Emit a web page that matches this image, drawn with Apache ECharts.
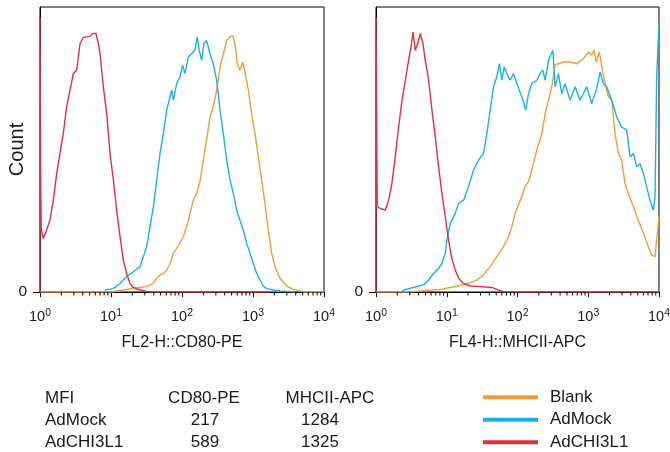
<!DOCTYPE html>
<html><head><meta charset="utf-8">
<script src="https://cdn.jsdelivr.net/npm/echarts@6/dist/echarts.min.js"></script>
<style>html,body{margin:0;padding:0;background:#fff}#c{width:670px;height:452px}</style>
</head><body><div id="c"></div>
<script>
const seriesNames = ['Blank', 'AdMock', 'AdCHI3L1'];
const seriesColors = ['#F39C3A', '#1BB1E6', '#E1303F'];
const panelNames = ['FL2-H::CD80-PE', 'FL4-H::MHCII-APC'];
const xTickExponents = ['0', '1', '2', '3', '4'];
const minorTickValues = [2,3,4,5,6,7,8,9,20,30,40,50,60,70,80,90,200,300,400,500,600,700,800,900,2000,3000,4000,5000,6000,7000,8000,9000];

const cd80Blank = [[1,0],[10,0],[16.6,0.9],[20.6,1.3],[25.6,1.6],[31.8,1.9],[39.5,3],[44,4.8],[49,6],[54.6,6.5],[60.8,7.7],[67.8,10],[75.5,13.6],[84.1,15.3],[93.7,17.1],[104,19.4],[116,22.9],[130,27.6],[144,32.2],[161,34.6],[179,38.7],[200,46.3],[222,53.3],[248,61.4],[276,65],[308,70.8],[343,79],[382,83.6],[426,88.3],[474,89.5],[517,90],[558,87.1],[601,80.1],[656,77.8],[715,80.7],[771,77.2],[859,70.8],[958,62.6],[1067,55.6],[1189,47.4],[1324,39.3],[1475,31.1],[1644,21.7],[1831,13.6],[2040,8.9],[2400,4.8],[2980,2.1],[3700,0.9],[4590,0.35],[5500,0],[10000,0]];
const cd80AdMock = [[8.2,0.7],[10.8,1.2],[13.4,3],[16.6,5.4],[20.6,7.1],[25.6,8.9],[28.5,12.4],[31.8,15.9],[35.4,22.9],[39.5,29.9],[44,39.3],[49,48.6],[54.6,55.6],[60.8,63.8],[67.8,68.5],[71.5,70.8],[75.5,67.3],[84.1,73.1],[93.7,75.5],[102,79.6],[110,76.6],[123,82.5],[137,83.6],[152,84.8],[164,89.5],[175,84.8],[189,81.3],[204,87.1],[222,88.3],[248,83.6],[276,80.1],[308,74.3],[343,63.8],[382,55.6],[426,46.3],[474,39.3],[528,34.6],[589,28.7],[656,25.2],[731,21.7],[815,17.1],[907,13.6],[1012,10],[1127,6.5],[1256,4.2],[1400,2.1],[1557,1.2],[1932,0.7],[2400,0.35],[3700,0.1],[4000,0]];
const cd80AdCHI3L1 = [[1,0],[1,96.5],[1.02,42],[1.04,22],[1.114,18.8],[1.24,21.7],[1.38,25.2],[1.54,32.2],[1.72,41.6],[1.91,48.6],[2.13,55.6],[2.37,65],[2.65,70.8],[2.95,76.6],[3.28,77.8],[3.66,87.1],[4.07,89.3],[4.54,89.5],[5.06,89.7],[5.52,90.7],[6.15,90.7],[6.63,87.1],[7.0,83.6],[7.8,72],[8.7,62.6],[9.7,48.6],[10.8,39.3],[12.0,28.7],[13.4,19.4],[14.9,11.2],[16.6,6.5],[18.5,3],[20.6,1.6],[25.6,0.7],[31.8,0.2],[40,0],[1750,0]];

const mhcBlank = [[1,0],[3,0],[4.71,0.5],[8.1,0.9],[11.2,1.6],[15.5,2.3],[21.5,3.3],[26.7,4.2],[33.1,6],[41.1,8.9],[51,12.4],[63.4,15.9],[74.6,19.4],[83.2,22.9],[92.7,27.6],[103,30.5],[115,33.4],[128,36.9],[143,38.7],[159,42.8],[187,49.8],[221,55.6],[246,62.6],[274,67.3],[305,72],[340,79.6],[379,80.1],[446,80.7],[554,80.7],[688,80.1],[855,81.9],[1005,84.2],[1120,83.1],[1208,84.8],[1290,80.7],[1438,84.2],[1552,79],[1730,73.1],[1928,68.5],[2148,67.3],[2393,55.6],[2666,48.6],[2970,46.3],[3309,38.1],[3687,34.6],[4345,29.9],[5107,25.2],[6011,20.6],[7066,15.9],[7871,13],[8790,12.4],[9470,20.6],[10000,26.4]];
const mhcAdMock = [[2.3,0],[2.46,0.7],[3.05,1.3],[3.79,1.9],[4.71,2.5],[5.54,4.2],[6.52,6.5],[7.67,8.3],[8.55,10],[9.53,13.6],[10.05,18.2],[11.2,24.1],[13.2,27.6],[14.7,31.1],[17.3,32.2],[20.3,36.9],[23.9,42.8],[28.1,46.3],[33.1,48.6],[36.9,55.6],[41.1,63.8],[45.8,72],[51,75.5],[55.7,80.1],[60.1,74.3],[64.8,79],[70.6,76.6],[78.7,74.3],[87.9,76.6],[97.9,73.1],[115,68.5],[131,63.8],[143,69.6],[159,73.1],[187,74.3],[209,76.6],[228,77.8],[246,74.3],[274,81.3],[316,84.8],[340,72],[379,76.6],[422,69.6],[471,73.1],[554,67.3],[652,72],[767,67.3],[953,72],[1120,66.1],[1318,71.4],[1469,77.2],[1637,73.1],[1824,72],[2148,67.3],[2525,61.4],[2970,57.9],[3497,56.8],[3898,47.4],[4345,48.6],[4842,43.9],[5395,45.1],[6011,41.6],[6699,36.9],[7464,32.2],[8317,28.7],[8790,33.4],[9270,75.5],[10000,94.2]];
const mhcAdCHI3L1 = [[1,0],[1,96.5],[1.02,65],[1.04,30],[1.15,29.3],[1.35,28.7],[1.51,32.2],[1.68,38.1],[1.87,47.4],[2.09,57.9],[2.33,67.3],[2.6,74.3],[2.89,81.3],[3.12,86],[3.33,91.2],[3.59,84.8],[3.87,87.1],[4.23,90.7],[4.61,87.1],[4.97,81.3],[5.54,74.3],[6.18,63.8],[6.88,54.4],[7.67,43.9],[8.55,34.6],[9.53,26.4],[10.6,18.2],[11.8,11.8],[13.2,7.7],[14.7,4.8],[17.3,3],[21.5,2.1],[29.7,1.9],[43.4,1.6],[51,0.9],[63.4,0.1],[70,0],[10000,0]];

const mfiHeader = ['MFI', 'CD80-PE', 'MHCII-APC'];
const mfiRowNames = ['AdMock', 'AdCHI3L1'];
const mfiCD80 = ['217', '589'];
const mfiMHCII = ['1284', '1325'];

const panelData = [
  [cd80Blank, cd80AdMock, cd80AdCHI3L1],
  [mhcBlank, mhcAdMock, mhcAdCHI3L1]
];

const FONT = 'Liberation Sans, Arial, sans-serif';
const TXT = '#1a1a1a';
const chart = echarts.init(document.getElementById('c'));

const grids = [
  {left: 40, right: 346, top: 7, bottom: 160},
  {left: 376, right: 11, top: 7, bottom: 160}
].map(g => Object.assign({show: true, borderColor: '#000', borderWidth: 1, backgroundColor: 'transparent', containLabel: false, outerBoundsMode: 'none'}, g));

const xAxes = panelNames.map((nm, i) => ({
  type: 'log', logBase: 10, min: 1, max: 10000, gridIndex: i,
  name: nm, nameLocation: 'middle', nameGap: 43, nameMoveOverlap: false,
  nameTextStyle: {fontFamily: FONT, fontSize: 16, color: TXT},
  axisLine: {show: true, lineStyle: {color: '#000', width: 1}},
  axisTick: {show: true, length: 5, lineStyle: {color: '#000'}},
  splitLine: {show: false},
  axisLabel: {
    margin: 16,
    formatter: v => '{b|10}{s|' + xTickExponents[Math.round(Math.log10(v))] + '}',
    rich: {
      b: {fontFamily: FONT, fontSize: 14.5, color: TXT, lineHeight: 18},
      s: {fontFamily: FONT, fontSize: 10.5, color: TXT, lineHeight: 10, verticalAlign: 'top'}
    }
  }
}));

const yAxes = [0, 1].map(i => ({
  type: 'value', min: 0, max: 100, gridIndex: i,
  name: i === 0 ? 'Count' : '', nameLocation: 'middle', nameGap: 13, nameMoveOverlap: false,
  nameTextStyle: {fontFamily: FONT, fontSize: 20, color: TXT},
  axisLine: {show: true, lineStyle: {color: '#000', width: 1}},
  axisTick: {show: true, length: 7, customValues: [0], lineStyle: {color: '#000'}},
  axisLabel: {customValues: [0], formatter: () => '0', margin: 13, fontFamily: FONT, fontSize: 15.5, color: TXT},
  splitLine: {show: false}
}));

const series = [];
panelData.forEach((arrs, p) => {
  arrs.forEach((d, k) => {
    series.push({
      type: 'line', name: seriesNames[k], xAxisIndex: p, yAxisIndex: p,
      data: d, symbol: 'none', smooth: false, z: 2 + k,
      lineStyle: {color: seriesColors[k], width: 1.4},
      itemStyle: {color: seriesColors[k]},
      emphasis: {disabled: true}, silent: true
    });
  });
  series.push({
    type: 'custom', xAxisIndex: p, yAxisIndex: p, clip: false, silent: true, z: 10,
    data: minorTickValues.map(v => [v, 0]),
    renderItem: (params, api) => {
      const pt = api.coord([api.value(0), 0]);
      return {type: 'line', shape: {x1: pt[0], y1: pt[1], x2: pt[0], y2: pt[1] + 3.5}, style: {stroke: '#000', lineWidth: 1}};
    }
  });
});

const graphics = [];
const rowY = [398, 420, 442];
const headX = [45, 204, 330];
mfiHeader.forEach((t, i) => graphics.push({type: 'text', x: headX[i], y: rowY[0],
  style: {text: t, fontFamily: FONT, fontSize: 17, fill: TXT, align: i === 0 ? 'left' : 'center', verticalAlign: 'middle'}}));
mfiRowNames.forEach((t, r) => {
  graphics.push({type: 'text', x: 45, y: rowY[r + 1], style: {text: t, fontFamily: FONT, fontSize: 17, fill: TXT, align: 'left', verticalAlign: 'middle'}});
  graphics.push({type: 'text', x: 205, y: rowY[r + 1], style: {text: mfiCD80[r], fontFamily: FONT, fontSize: 17, fill: TXT, align: 'center', verticalAlign: 'middle'}});
  graphics.push({type: 'text', x: 320, y: rowY[r + 1], style: {text: mfiMHCII[r], fontFamily: FONT, fontSize: 17, fill: TXT, align: 'center', verticalAlign: 'middle'}});
});

chart.setOption({
  animation: false,
  grid: grids,
  xAxis: xAxes,
  yAxis: yAxes,
  legend: {
    orient: 'vertical', left: 483, top: 388, height: 90, padding: 0, itemWidth: 55, itemHeight: 4, itemGap: 4,
    icon: 'rect', selectedMode: false, data: seriesNames,
    textStyle: {fontFamily: FONT, fontSize: 17, color: TXT, lineHeight: 18.5, padding: [0, 0, 0, 7]}
  },
  graphic: graphics,
  series: series
});
</script></body></html>
